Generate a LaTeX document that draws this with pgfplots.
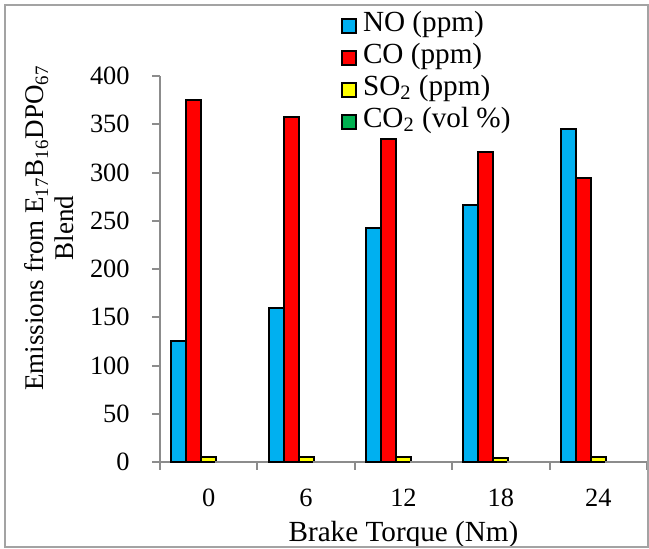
\documentclass[border=0pt]{standalone}
\usepackage{fontspec}
\setmainfont{Liberation Serif}
\usepackage{pgfplots}
\pgfplotsset{compat=1.18}
\definecolor{cNO}{HTML}{00B0F0}
\definecolor{cCO}{HTML}{FF0000}
\definecolor{cSO}{HTML}{FFFF00}
\definecolor{cCD}{HTML}{00B050}
\definecolor{axgray}{HTML}{8C8C8C}
\begin{document}
\begin{tikzpicture}
\begin{axis}[
  scale only axis,
  width=243.5bp, height=193bp,
  xmin=-0.5, xmax=4.5,
  ymin=0, ymax=400,
  ytick={0,50,...,400},
  xtick={0,1,2,3,4},
  xticklabels={0,6,12,18,24},
  minor xtick={-0.5,0.5,1.5,2.5,3.5,4.5},
  axis x line=bottom, axis y line=left,
  axis line style={-, axgray, line width=1bp},
  tick align=outside,
  major tick length=4bp, minor tick length=4bp,
  major x tick style={draw=none},
  minor x tick style={axgray, line width=1bp},
  major y tick style={axgray, line width=1bp},
  /pgf/number format/assume math mode=true,
  ticklabel style={font=\fontsize{13.2bp}{15bp}\selectfont},
  yticklabel style={anchor=east, inner sep=0pt, xshift=-11bp},
  xticklabel style={anchor=base, inner sep=0pt, yshift=-18bp},
  xlabel={Brake Torque (Nm)},
  xlabel style={at={(axis description cs:0.5,0)}, anchor=base, yshift=-39.5bp, font=\fontsize{14.6bp}{16bp}\selectfont},
  ylabel={Emissions from E\textsubscript{17}B\textsubscript{16}DPO\textsubscript{67}\\Blend},
  ylabel style={at={(axis description cs:-0.2269,0.606)}, anchor=center, align=center, font=\fontsize{13.5bp}{15bp}\selectfont},
  legend style={at={(axis description cs:0.3717,1.172)}, anchor=north west, draw=none, fill=none,
    inner sep=0pt, outer sep=0pt, column sep=3bp,
    nodes={inner sep=0pt, text height=11bp, text depth=5bp, anchor=west},
    font=\fontsize{14.6bp}{16bp}\selectfont},
  legend cell align=left,
  legend image code/.code={\draw[#1, line width=1bp, draw=black] (0bp,-3.5bp) rectangle (7bp,3.5bp);},
  clip=false,
]
\addplot[ybar, bar width=7.5bp, bar shift=-15bp, fill=cNO, draw=black, line width=1bp]
  coordinates {(0,125) (1,159.5) (2,242) (3,266) (4,345)};
\addlegendentry{NO (ppm)}
\addplot[ybar, bar width=7.5bp, bar shift=-7.5bp, fill=cCO, draw=black, line width=1bp]
  coordinates {(0,375) (1,357) (2,334.5) (3,321) (4,294)};
\addlegendentry{CO (ppm)}
\addplot[ybar, bar width=7.5bp, bar shift=0bp, fill=cSO, draw=black, line width=1bp]
  coordinates {(0,5.5) (1,5) (2,5) (3,4) (4,5)};
\addlegendentry{SO\textsubscript{2} (ppm)}
\addplot[ybar, bar width=7.5bp, bar shift=7.5bp, fill=cCD, draw=axgray, line width=1bp]
  coordinates {(0,0.5) (1,0.5) (2,0.5) (3,0.5) (4,0.5)};
\addlegendentry{CO\textsubscript{2} (vol \%)}
\end{axis}
\draw[axgray!80, line width=1bp] (-77.5bp,-42.5bp) rectangle (244bp,228.5bp);
\pgfresetboundingbox
\path[use as bounding box] (-80bp,-43.5bp) rectangle (244.5bp,231bp);
\end{tikzpicture}
\end{document}
